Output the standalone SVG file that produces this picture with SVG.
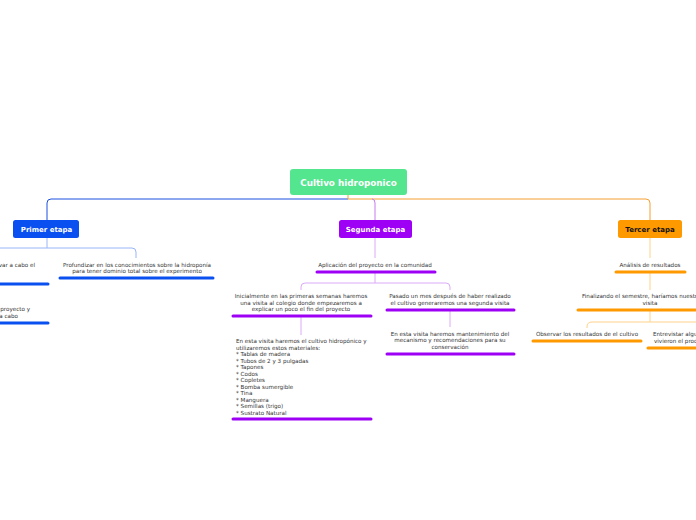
<svg xmlns="http://www.w3.org/2000/svg" width="696" height="520" viewBox="0 0 696 520">
<style>
.t{font-family:"DejaVu Sans",Verdana,sans-serif;font-size:5.6px;fill:#333}
.c{text-anchor:middle}
.h{font-family:"DejaVu Sans",Verdana,sans-serif;font-weight:bold;text-anchor:middle}
.ln{fill:none;stroke-width:1}
.u{stroke-width:3;stroke-linecap:round;fill:none}
</style>
<rect width="696" height="520" fill="#fff"/>
<g id="connectors">
<path class="ln" stroke="#1a4fe0" d="M348,199 H51 Q47,199 47,203 V220"/>
<path class="ln" stroke="#f5a030" d="M348,195 V199 H646 Q650,199 650,203 V220"/>
<path class="ln" stroke="#c878f0" d="M372,199 Q375,199 375,203 V220"/>
<path class="ln" stroke="#98b4f8" d="M47,238 V248 M0,248 H132 Q136,248 136,252 V258"/>
<path class="ln" stroke="#dcaaf8" d="M375,238 V258 M375,272 V283 M305,283 H446 Q450,283 450,287 V290 M305,283 Q301,283 301,287 V290 M301,317 V335 M450,311 V327"/>
<path class="ln" stroke="#ffd28a" d="M650,238 V258 M650,273 V290 M650,311 V322 M592,322 H696 M592,322 Q587,322 587,327 V328"/>
</g>
<g id="root">
<rect x="290" y="169" width="117" height="26" rx="3" fill="#53e68e"/>
<text class="h" x="348.5" y="185.5" font-size="8.8" fill="#fff">Cultivo hidroponico</text>
</g>
<g id="primer">
<rect x="13" y="220" width="66" height="18" rx="2.5" fill="#0a4ff0"/>
<text class="h" x="46.5" y="231.6" font-size="7" fill="#fff">Primer etapa</text>
</g>
<g id="segunda">
<rect x="339" y="220" width="73" height="18" rx="2.5" fill="#9d00f5"/>
<text class="h" x="375.5" y="231.6" font-size="7" fill="#fff">Segunda etapa</text>
</g>
<g id="tercer">
<rect x="618" y="220" width="64" height="18" rx="2.5" fill="#ff9900"/>
<text class="h" x="650" y="231.6" font-size="7" fill="#111">Tercer etapa</text>
</g>
<g id="p1">
<text class="t" x="35" y="267" text-anchor="end">var a cabo el</text>
<path class="u" stroke="#0a4ff0" d="M-5,284 H48"/>
</g>
<g id="p2">
<text class="t" x="30" y="311" text-anchor="end">proyecto y</text>
<text class="t" x="18" y="318" text-anchor="end">a cabo</text>
<path class="u" stroke="#0a4ff0" d="M-5,323 H48"/>
</g>
<g id="p3">
<text class="t c" x="137" y="267">Profundizar en los conocimientos sobre la hidroponía</text>
<text class="t c" x="137" y="273">para tener dominio total sobre el experimento</text>
<path class="u" stroke="#0a4ff0" d="M60,278 H213"/>
</g>
<g id="s1">
<text class="t c" x="375" y="267">Aplicación del proyecto en la comunidad</text>
<path class="u" stroke="#9d00f5" d="M317,272 H435"/>
</g>
<g id="s2">
<text class="t c" x="301" y="298">Inicialmente en las primeras semanas haremos</text>
<text class="t c" x="301" y="304.5">una visita al colegio donde empezaremos a</text>
<text class="t c" x="301" y="311">explicar un poco el fin del proyecto</text>
<path class="u" stroke="#9d00f5" d="M233,316 H371"/>
</g>
<g id="s3">
<text class="t" x="236" y="343">En esta visita haremos el cultivo hidropónico y</text>
<text class="t" x="236" y="349.5">utilizaremos estos materiales:</text>
<text class="t" x="236" y="356">* Tablas de madera</text>
<text class="t" x="236" y="362.5">* Tubos de 2 y 3 pulgadas</text>
<text class="t" x="236" y="369">* Tapones</text>
<text class="t" x="236" y="375.5">* Codos</text>
<text class="t" x="236" y="382">* Copletes</text>
<text class="t" x="236" y="388.5">* Bomba sumergible</text>
<text class="t" x="236" y="395">* Tina</text>
<text class="t" x="236" y="401.5">* Manguera</text>
<text class="t" x="236" y="408">* Semillas (trigo)</text>
<text class="t" x="236" y="414.5">* Sustrato Natural</text>
<path class="u" stroke="#9d00f5" d="M233,419 H371"/>
</g>
<g id="s4">
<text class="t c" x="450" y="298">Pasado un mes después de haber realizado</text>
<text class="t c" x="450" y="304.5">el cultivo generaremos una segunda visita</text>
<path class="u" stroke="#9d00f5" d="M387,310 H514"/>
</g>
<g id="s5">
<text class="t c" x="450" y="335.5">En esta visita haremos mantenimiento del</text>
<text class="t c" x="450" y="342">mecanismo y recomendaciones para su</text>
<text class="t c" x="450" y="348.5">conservación</text>
<path class="u" stroke="#9d00f5" d="M387,354 H514"/>
</g>
<g id="t1">
<text class="t c" x="650" y="267">Análisis de resultados</text>
<path class="u" stroke="#ff9900" d="M616,272 H685"/>
</g>
<g id="t2">
<text class="t" x="582" y="298">Finalizando el semestre, haríamos nuestra</text>
<text class="t c" x="650" y="304.5">visita</text>
<path class="u" stroke="#ff9900" d="M578,310 H700"/>
</g>
<g id="t3">
<text class="t c" x="587" y="336">Observar los resultados de el cultivo</text>
<path class="u" stroke="#ff9900" d="M533,341 H641"/>
</g>
<g id="t4">
<text class="t" x="653" y="336">Entrevistar algu</text>
<text class="t" x="654" y="342.5">vivieron el proc</text>
<path class="u" stroke="#ff9900" d="M648,348 H700"/>
</g>
</svg>
